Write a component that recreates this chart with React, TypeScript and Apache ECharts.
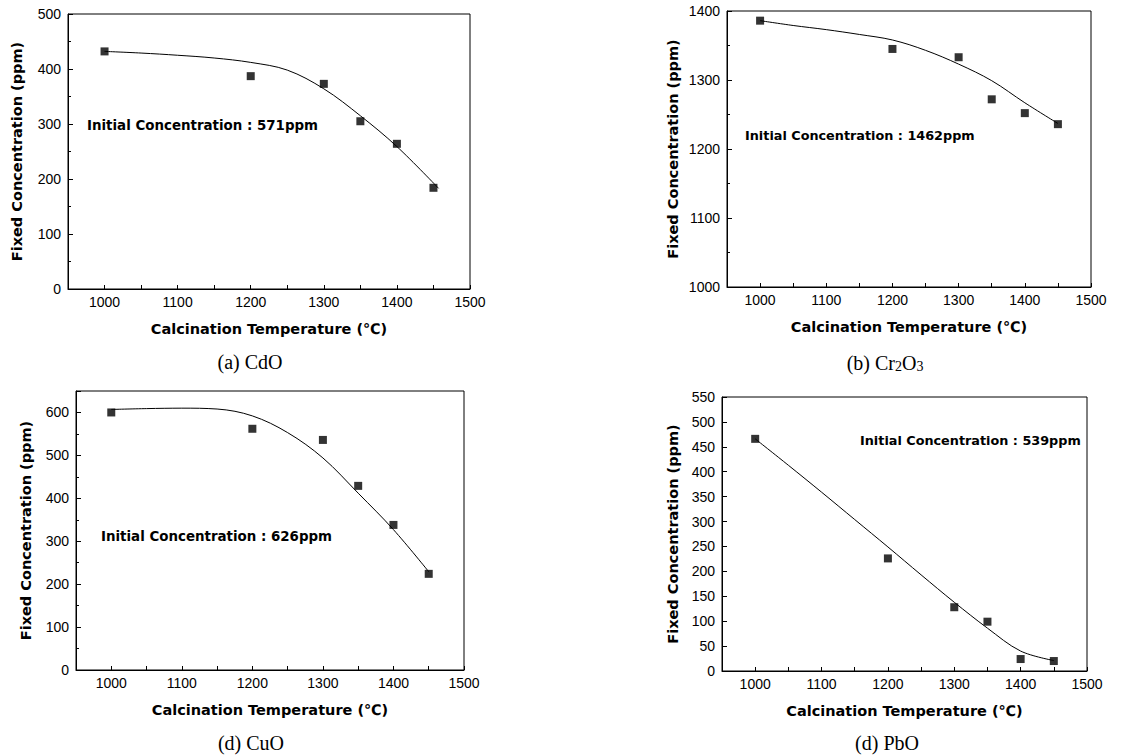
import React, { useEffect, useRef } from "react";
import * as echarts from "echarts";

// Measured points (temperature in ℃)
const temps = [1000, 1200, 1300, 1350, 1400, 1450];
const cdo = [432, 387, 373, 305, 264, 184];
const cr2o3 = [1386, 1345, 1333, 1272, 1252, 1236];
const cuo = [600, 562, 536, 429, 338, 224];
const pbo = [466, 226, 128, 99, 24, 20];

// Fitted curves
const fitT = [1000, 1050, 1100, 1150, 1200, 1250, 1300, 1350, 1400, 1450];
const cdoFitT = [1000, 1050, 1100, 1150, 1200, 1250, 1300, 1350, 1400, 1457];
const cdoFit = [432, 429, 425, 420, 412, 398, 364, 315, 259, 183];
const cr2o3Fit = [1386, 1379, 1373, 1366, 1358, 1343, 1323, 1299, 1267, 1237];
const cuoFit = [607, 609, 610, 608, 592, 553, 494, 412, 327, 229];
const pboFit = [466, 413, 359, 304, 249, 193, 138, 86, 40, 21];

// Axis ranges
const xRange = [950, 1500];
const yRanges = [
  [0, 500, 100],
  [1000, 1400, 100],
  [0, 650, 100],
  [0, 550, 50],
];

const initialLabels = [
  "Initial Concentration : 571ppm",
  "Initial Concentration : 1462ppm",
  "Initial Concentration : 626ppm",
  "Initial Concentration : 539ppm",
];

const xName = "Calcination Temperature (℃)";
const yName = "Fixed Concentration (ppm)";

const grids = [
  { left: 68, top: 14, width: 402, height: 275 },
  { left: 727, top: 11, width: 364, height: 276 },
  { left: 76, top: 391, width: 388, height: 279 },
  { left: 722, top: 397, width: 365, height: 274 },
];
const yNameGaps = [44, 47, 43, 42];

const annPos = [
  [87, 125, 13.4],
  [745, 135, 12.8],
  [101, 536, 13.4],
  [860, 440, 12.8],
];

const pair = (xs: number[], ys: number[]) => xs.map((x, i) => [x, ys[i]]);

export default function App() {
  const ref = useRef<HTMLDivElement>(null);
  useEffect(() => {
    if (!ref.current) return;
    const chart = echarts.init(ref.current, undefined, { renderer: "svg" });
    const tickFont = { fontFamily: "'Liberation Sans', Arial, sans-serif", fontSize: 14, color: "#000" };
    const nameStyle = {
      fontFamily: "'DejaVu Sans', sans-serif",
      fontWeight: "bold" as const,
      fontSize: 14.5,
      color: "#000",
    };
    const axisLine = { show: true, lineStyle: { color: "#000", width: 1 } };

    const xAxis = grids.map((_, i) => ({
      type: "value",
      gridIndex: i,
      min: xRange[0],
      max: xRange[1],
      interval: 50,
      axisLine,
      axisTick: { show: true, inside: true, length: 4, lineStyle: { color: "#000" } },
      axisLabel: {
        ...tickFont,
        margin: 6,
        formatter: (v: number) => (v % 100 === 0 ? String(v) : ""),
      },
      splitLine: { show: false },
      name: xName,
      nameLocation: "middle",
      nameGap: 32,
      nameTextStyle: nameStyle,
    }));

    const yAxis = grids.map((_, i) => ({
      type: "value",
      gridIndex: i,
      min: yRanges[i][0],
      max: yRanges[i][1],
      interval: yRanges[i][2],
      axisLine,
      axisTick: { show: true, inside: true, length: 5, lineStyle: { color: "#000" } },
      minorTick:
        i === 3 ? { show: false } : { show: true, splitNumber: 2, length: 3, lineStyle: { color: "#000" } },
      axisLabel: { ...tickFont, margin: 7, showMaxLabel: i !== 2, formatter: (v: number) => String(v) },
      splitLine: { show: false },
      minorSplitLine: { show: false },
      name: yName,
      nameLocation: "middle",
      nameGap: yNameGaps[i],
      nameTextStyle: nameStyle,
    }));

    const fits = [pair(cdoFitT, cdoFit), pair(fitT, cr2o3Fit), pair(fitT, cuoFit), pair(fitT, pboFit)];
    const pts = [pair(temps, cdo), pair(temps, cr2o3), pair(temps, cuo), pair(temps, pbo)];

    const series: any[] = [];
    grids.forEach((_, i) => {
      series.push({
        type: "line",
        xAxisIndex: i,
        yAxisIndex: i,
        data: fits[i],
        smooth: 0.35,
        showSymbol: false,
        symbol: "none",
        lineStyle: { color: "#000", width: 1 },
        z: 2,
      });
      series.push({
        type: "scatter",
        xAxisIndex: i,
        yAxisIndex: i,
        data: pts[i],
        symbol: "rect",
        symbolSize: 8,
        itemStyle: { color: "#000" },
        z: 3,
      });
    });

    const captionFont = "20px 'Liberation Serif', 'Times New Roman', serif";
    const graphic: any[] = [];
    initialLabels.forEach((t, i) => {
      graphic.push({
        type: "text",
        x: annPos[i][0],
        y: annPos[i][1],
        style: {
          text: t,
          font: `bold ${annPos[i][2]}px 'DejaVu Sans', sans-serif`,
          fill: "#000",
          align: "left",
          verticalAlign: "middle",
        },
      });
    });
    const captions = [
      { text: "(a) CdO", x: 250, y: 362 },
      { text: "(d) CuO", x: 251, y: 743 },
      { text: "(d) PbO", x: 887, y: 743 },
    ];
    captions.forEach((c) => {
      graphic.push({
        type: "text",
        x: c.x,
        y: c.y,
        style: { text: c.text, font: captionFont, fill: "#000", align: "center", verticalAlign: "middle" },
      });
    });
    graphic.push({
      type: "text",
      x: 885,
      y: 363,
      style: {
        text: "(b) Cr{s|2}O{s|3}",
        font: captionFont,
        fill: "#000",
        align: "center",
        verticalAlign: "middle",
        rich: {
          s: {
            fontFamily: "'Liberation Serif', serif",
            fontSize: 14,
            verticalAlign: "bottom",
            fill: "#000",
          },
        },
      },
    });

    chart.setOption({
      animation: false,
      backgroundColor: "#fff",
      grid: grids.map((g) => ({ ...g, show: true, borderColor: "#000", borderWidth: 1, containLabel: false })),
      xAxis,
      yAxis,
      series,
      graphic,
    });
    return () => chart.dispose();
  }, []);
  return (
    <div
      ref={ref}
      style={{ position: "fixed", left: 0, top: 0, width: 1122, height: 756, background: "#fff" }}
    />
  );
}
